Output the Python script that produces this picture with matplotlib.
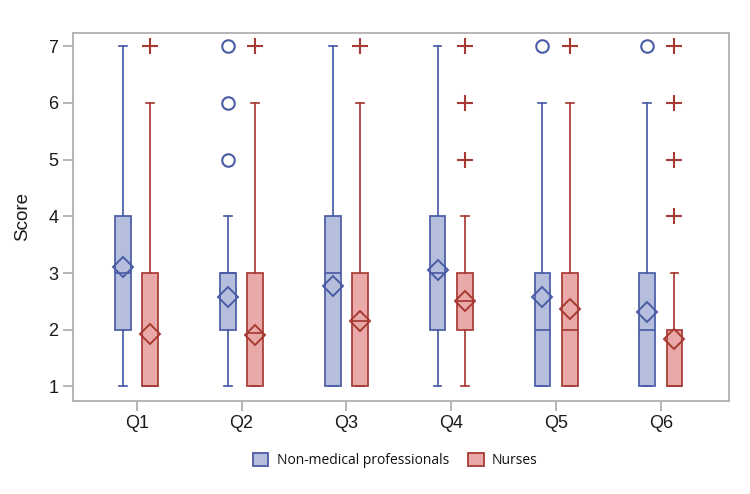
import matplotlib
matplotlib.use("Agg")
import matplotlib.pyplot as plt
from matplotlib.patches import Patch

categories = ["Q1", "Q2", "Q3", "Q4", "Q5", "Q6"]
groups = ["Non-medical professionals", "Nurses"]

# Non-medical professionals
nm_whislo = [1, 1, 1, 1, 1, 1]
nm_q1 = [2, 2, 1, 2, 1, 1]
nm_med = [3, 3, 3, 3, 2, 2]
nm_q3 = [4, 3, 4, 4, 3, 3]
nm_whishi = [7, 4, 7, 7, 6, 6]
nm_mean = [3.10, 2.57, 2.77, 3.06, 2.58, 2.31]
nm_fliers = [[], [5, 6, 7], [], [], [7], [7]]

# Nurses
nu_whislo = [1, 1, 1, 1, 1, 1]
nu_q1 = [1, 1, 1, 2, 1, 1]
nu_med = [1, 1.95, 2.15, 2.5, 2, 1]
nu_q3 = [3, 3, 3, 3, 3, 2]
nu_whishi = [6, 6, 6, 4, 6, 3]
nu_mean = [1.92, 1.90, 2.16, 2.51, 2.36, 1.84]
nu_fliers = [[7], [7], [7], [5, 6, 7], [7], [4, 5, 6, 7]]

blue_edge = "#4a5ca6"
blue_fill = "#b5bedc"
red_edge = "#a83a34"
red_fill = "#eaa9a9"

plt.rcParams["font.family"] = ["Liberation Sans", "DejaVu Sans"]

fig = plt.figure(figsize=(7.5, 4.94), dpi=100)
ax = fig.add_axes([0.097, 0.189, 0.875, 0.745])

def make_stats(wl, q1, med, q3, wh, mean, fl):
    return [dict(whislo=a, q1=b, med=c, q3=d, whishi=e, mean=f, fliers=g)
            for a, b, c, d, e, f, g in zip(wl, q1, med, q3, wh, mean, fl)]

pos = list(range(1, len(categories) + 1))
off = 0.13
w = 0.15
lw = 1.25

for stats, shift, ec, fc, fmark in [
    (make_stats(nm_whislo, nm_q1, nm_med, nm_q3, nm_whishi, nm_mean, nm_fliers), -off, blue_edge, blue_fill, "o"),
    (make_stats(nu_whislo, nu_q1, nu_med, nu_q3, nu_whishi, nu_mean, nu_fliers), off, red_edge, red_fill, "+"),
]:
    ax.bxp(stats, positions=[p + shift for p in pos], widths=w, patch_artist=True,
           showmeans=True, showfliers=True, capwidths=0.075,
           boxprops=dict(facecolor=fc, edgecolor=ec, linewidth=lw),
           medianprops=dict(color=ec, linewidth=lw),
           whiskerprops=dict(color=ec, linewidth=lw),
           capprops=dict(color=ec, linewidth=lw),
           meanprops=dict(marker="D", markerfacecolor="none", markeredgecolor=ec,
                          markersize=10.5, markeredgewidth=1.4),
           flierprops=dict(marker=fmark, markerfacecolor="none", markeredgecolor=ec,
                           markersize=11 if fmark == "+" else 9, markeredgewidth=1.5))

ax.set_xlim(0.39, 6.65)
ax.set_ylim(0.75, 7.24)
ax.set_xticks(pos)
ax.set_xticklabels(categories)
ax.set_yticks(range(1, 8))
ax.set_ylabel("Score", fontsize=13.5, color="#1a1a1a", labelpad=12)
for s in ax.spines.values():
    s.set_color("#b0b0b0")
    s.set_linewidth(1.3)
ax.tick_params(axis="both", colors="#b0b0b0", labelcolor="#1a1a1a", labelsize=13,
               length=7, width=1.3)

handles = [Patch(facecolor=blue_fill, edgecolor=blue_edge, linewidth=1.3),
           Patch(facecolor=red_fill, edgecolor=red_edge, linewidth=1.3)]
leg = fig.legend(handles, groups, loc="center", bbox_to_anchor=(0.527, 0.068), ncol=2,
                 frameon=False, handlelength=1.1, handleheight=1.1,
                 handletextpad=0.6, columnspacing=1.4, prop={"family": "Open Sans", "size": 10})
for t in leg.get_texts():
    t.set_color("#111111")

fig.savefig("out.png", dpi=100)
